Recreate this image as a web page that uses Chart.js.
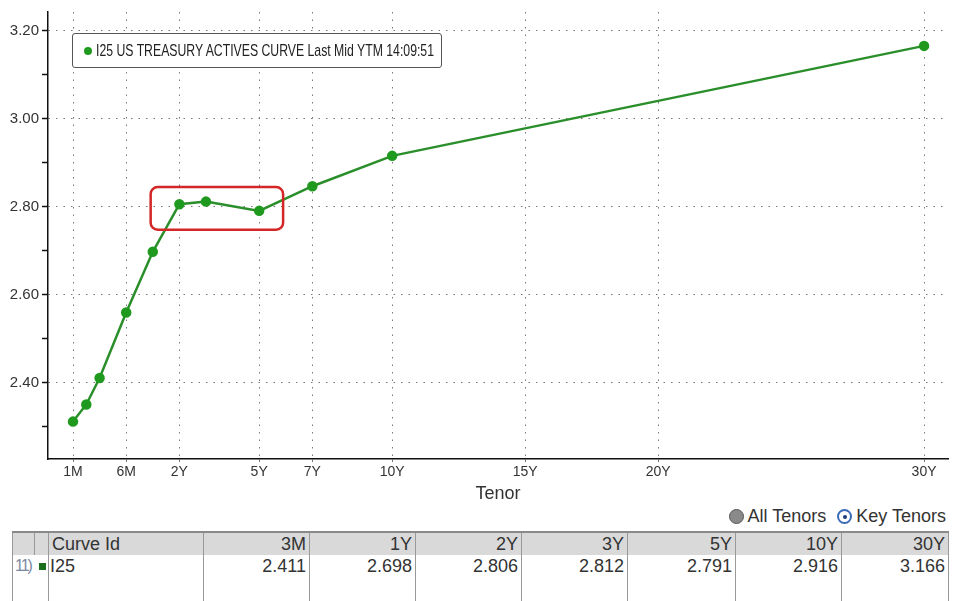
<!DOCTYPE html>
<html>
<head>
<meta charset="utf-8">
<script src="https://cdn.jsdelivr.net/npm/chart.js@4"></script>
<style>
  html, body { margin: 0; padding: 0; background: #fff; }
  body { width: 959px; height: 601px; position: relative; overflow: hidden;
         font-family: "Liberation Sans", "DejaVu Sans", sans-serif; color: #333; }
  #chart { position: absolute; left: 0; top: 0; }
  .legend-box { position: absolute; left: 72px; top: 33px; width: 368px; height: 33px;
                border: 1.5px solid #555; border-radius: 3px; background: #fff;
                font-size: 17px; line-height: 33px; color: #222; white-space: nowrap; }
  .legend-dot { position: absolute; left: 11px; top: 13px; width: 8px; height: 8px; border-radius: 50%; background: #1f9a1f; }
  .legend-text { position: absolute; left: 23px; top: 0; transform-origin: 0 50%; }
  .radios { position: absolute; right: 13px; top: 506px; font-size: 18px; color: #333; white-space: nowrap; }
  .radio { display: inline-block; width: 15px; height: 15px; border-radius: 50%; vertical-align: -2px; margin-right: 4px; box-sizing: border-box; }
  .radio.off { background: #8a8a8a; border: 1.5px solid #555; }
  .radio.on { background: #fff; border: 2px solid #3a6ab8; position: relative; margin-left: 6px; }
  .radio.on::after { content: ""; position: absolute; left: 3.5px; top: 3.5px; width: 4px; height: 4px; border-radius: 50%; background: #1a3a80; }
  table { position: absolute; left: 12px; top: 531px; width: 936px; border-collapse: collapse; font-size: 18px; table-layout: fixed; }
  th, td { border-left: 1px solid #999; border-right: 1px solid #999; padding: 0 3px; text-align: right; font-weight: normal; overflow: hidden; white-space: nowrap; }
  th { background: #d9d9d9; height: 22px; border-top: 2px solid #8a8a8a; color: #333; line-height: 22px; }
  td { height: 22px; line-height: 22px; color: #333; }
  tr.pad td { height: 30px; }
  .l { text-align: left; }
  .rowno { color: #7b8aa0; font-size: 16px; padding: 0 0 0 2px !important; border-right: none; letter-spacing: -2px; }
  .sq { display: inline-block; width: 7px; height: 7px; background: #1b6e1b; vertical-align: 2px; }
</style>
</head>
<body>
<canvas id="chart" width="959" height="505"></canvas>
<div class="legend-box"><span class="legend-dot"></span><span class="legend-text" id="legendText"></span></div>
<div class="radios"><span class="radio off"></span>All Tenors <span class="radio on"></span>Key Tenors</div>
<table id="table"></table>
<script>
const CURVE_ID = 'I25';
const CURVE_NAME = 'I25 US TREASURY ACTIVES CURVE Last Mid YTM 14:09:51';

// curve points (tenor label, maturity in years, yield)
const TENORS = ['1M', '2M', '3M', '6M', '1Y', '2Y', '3Y', '5Y', '7Y', '10Y', '30Y'];
const TENOR_YEARS = [1 / 12, 2 / 12, 0.25, 0.5, 1, 2, 3, 5, 7, 10, 30];
const YIELDS = [2.312, 2.351, 2.411, 2.560, 2.698, 2.806, 2.812, 2.791, 2.847, 2.916, 3.166];

// axis labels
const AXIS_TENORS = ['1M', '6M', '2Y', '5Y', '7Y', '10Y', '15Y', '20Y', '30Y'];
const AXIS_YEARS = [1 / 12, 0.5, 2, 5, 7, 10, 15, 20, 30];
const Y_TICKS = [2.3, 2.4, 2.5, 2.6, 2.7, 2.8, 2.9, 3.0, 3.1, 3.2];

// table columns
const KEY_TENORS = ['3M', '1Y', '2Y', '3Y', '5Y', '10Y', '30Y'];

// boxed region (years / yield)
const HIGHLIGHT = { x0: 0.96, x1: 5.9, y0: 2.748, y1: 2.845 };

// bloomberg style tenor axis: stretched short end, linear after 1Y
const SHORT_YEARS = [1 / 12, 2 / 12, 0.25, 0.5, 1];
const SHORT_POS = [0, 0.5, 1, 2, 3];
function tenorPos(y) {
    if (y >= 1) return y + 2;
    for (let i = 1; i < SHORT_YEARS.length; i++) {
        if (y <= SHORT_YEARS[i]) {
            const f = (y - SHORT_YEARS[i - 1]) / (SHORT_YEARS[i] - SHORT_YEARS[i - 1]);
            return SHORT_POS[i - 1] + f * (SHORT_POS[i] - SHORT_POS[i - 1]);
        }
    }
    return SHORT_POS[0];
}

const FONT = '"Liberation Sans", "DejaVu Sans", sans-serif';
const GREEN = '#1f9a1f';

// squeeze the legend text to the narrow terminal look
const legendText = document.getElementById('legendText');
legendText.textContent = CURVE_NAME;
legendText.style.transform = `scaleX(${338 / legendText.offsetWidth})`;

const highlightBox = {
    id: 'highlightBox',
    afterDatasetsDraw(chart) {
        const { ctx, scales: { x, y } } = chart;
        const l = x.getPixelForValue(tenorPos(HIGHLIGHT.x0));
        const r = x.getPixelForValue(tenorPos(HIGHLIGHT.x1));
        const t = y.getPixelForValue(HIGHLIGHT.y1);
        const b = y.getPixelForValue(HIGHLIGHT.y0);
        ctx.save();
        ctx.strokeStyle = '#d42626';
        ctx.lineWidth = 2.5;
        ctx.beginPath();
        ctx.roundRect(l, t, r - l, b - t, 7);
        ctx.stroke();
        ctx.restore();
    }
};

new Chart(document.getElementById('chart'), {
    type: 'line',
    data: {
        datasets: [{
            label: CURVE_NAME,
            data: TENOR_YEARS.map((t, i) => ({ x: tenorPos(t), y: YIELDS[i] })),
            borderColor: '#2a8f2a',
            backgroundColor: GREEN,
            pointBackgroundColor: GREEN,
            pointBorderColor: GREEN,
            borderWidth: 2.5,
            pointRadius: 4,
            tension: 0
        }]
    },
    options: {
        responsive: false,
        animation: false,
        devicePixelRatio: 1,
        layout: { padding: { top: 7, right: 11, left: 0, bottom: 0 } },
        plugins: { legend: { display: false }, tooltip: { enabled: false } },
        scales: {
            x: {
                type: 'linear',
                min: -0.94,
                max: 32.9,
                afterBuildTicks: s => { s.ticks = AXIS_YEARS.map(t => ({ value: tenorPos(t) })); },
                afterFit: s => { s.height = 46; },
                ticks: {
                    autoSkip: false,
                    maxRotation: 0,
                    padding: 2,
                    color: '#333',
                    font: { family: FONT, size: 14 },
                    callback: (v, i) => AXIS_TENORS[i]
                },
                grid: { color: '#777', lineWidth: 1, tickLength: 3, tickColor: '#777' },
                border: { color: '#111', width: 1.5, dash: [1.5, 6] },
                title: {
                    display: true, text: 'Tenor', color: '#333',
                    font: { family: FONT, size: 18 }, padding: { top: 2, bottom: 0 }
                }
            },
            y: {
                min: 2.227,
                max: 3.243,
                afterBuildTicks: s => { s.ticks = Y_TICKS.map(v => ({ value: v })); },
                afterFit: s => { s.width = 48; },
                ticks: {
                    color: '#333',
                    padding: 3,
                    font: { family: FONT, size: 15 },
                    callback: v => (Math.round(v * 10) % 2 === 0 ? v.toFixed(2) : '')
                },
                grid: {
                    color: c => (c.tick && Math.round(c.tick.value * 10) % 2 === 0 ? '#777' : 'rgba(0,0,0,0)'),
                    lineWidth: 1,
                    tickLength: 6,
                    tickColor: '#111',
                    tickWidth: 1.5
                },
                border: { color: '#111', width: 1.5, dash: [1.5, 6] }
            }
        }
    },
    plugins: [highlightBox]
});

// key tenor table
const table = document.getElementById('table');
const widths = [22, 14, 155, 106, 106, 106, 106, 108, 106, 107];
table.innerHTML =
    '<colgroup>' + widths.map(w => `<col style="width:${w}px">`).join('') + '</colgroup>' +
    '<tr><th></th><th></th><th class="l">Curve Id</th>' + KEY_TENORS.map(k => `<th>${k}</th>`).join('') + '</tr>' +
    `<tr><td class="l rowno">11)</td><td class="l" style="border-left:none;padding:0 0 0 4px"><span class="sq"></span></td><td class="l" style="padding-left:1px">${CURVE_ID}</td>` +
    KEY_TENORS.map(k => `<td>${YIELDS[TENORS.indexOf(k)].toFixed(3)}</td>`).join('') + '</tr>' +
    '<tr class="pad"><td style="border-right:none"></td><td style="border-left:none"></td><td></td>' + KEY_TENORS.map(() => '<td></td>').join('') + '</tr>';
</script>
</body>
</html>
